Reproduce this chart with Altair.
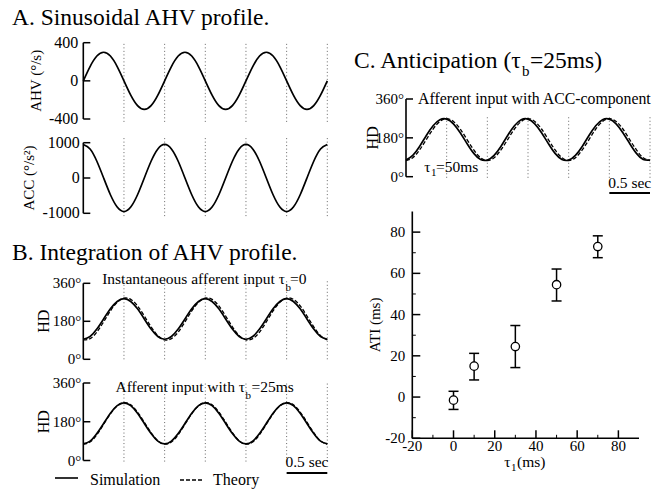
import altair as alt
import pandas as pd

FONT = "Liberation Serif"

# ---------------- data ----------------
# time samples in seconds (period of the head-turn = 1 s)
t = [0.0, 0.0833, 0.1667, 0.25, 0.3333, 0.4167, 0.5, 0.5833, 0.6667, 0.75, 0.8333, 0.9167,
     1.0, 1.0833, 1.1667, 1.25, 1.3333, 1.4167, 1.5, 1.5833, 1.6667, 1.75, 1.8333, 1.9167,
     2.0, 2.0833, 2.1667, 2.25, 2.3333, 2.4167, 2.5, 2.5833, 2.6667, 2.75, 2.8333, 2.9167, 3.0]

ahv = [0, 150, 260, 300, 260, 150, 0, -150, -260, -300, -260, -150,
       0, 150, 260, 300, 260, 150, 0, -150, -260, -300, -260, -150,
       0, 150, 260, 300, 260, 150, 0, -150, -260, -300, -260, -150, 0]

acc = [950, 823, 475, 0, -475, -823, -950, -823, -475, 0, 475, 823,
       950, 823, 475, 0, -475, -823, -950, -823, -475, 0, 475, 823,
       950, 823, 475, 0, -475, -823, -950, -823, -475, 0, 475, 823, 950]

hd1_sim = [95, 108, 143, 191, 239, 274, 287, 274, 239, 191, 143, 108,
           95, 108, 143, 191, 239, 274, 287, 274, 239, 191, 143, 108,
           95, 108, 143, 191, 239, 274, 287, 274, 239, 191, 143, 108, 95]
hd1_theory = [92, 98, 129, 177, 229, 270, 290, 284, 253, 205, 154, 112,
              92, 98, 129, 177, 229, 270, 290, 284, 253, 205, 154, 112,
              92, 98, 129, 177, 229, 270, 290, 284, 253, 205, 154, 112, 92]

hd2_sim = [77, 90, 125, 172, 220, 255, 268, 255, 220, 172, 125, 90,
           77, 90, 125, 172, 220, 255, 268, 255, 220, 172, 125, 90,
           77, 90, 125, 172, 220, 255, 268, 255, 220, 172, 125, 90, 77]
hd2_theory = [76, 86, 120, 168, 217, 254, 269, 259, 225, 178, 129, 91,
              76, 86, 120, 168, 217, 254, 269, 259, 225, 178, 129, 91,
              76, 86, 120, 168, 217, 254, 269, 259, 225, 178, 129, 91, 76]

c_sim = [77, 99, 140, 191, 236, 264, 267, 245, 204, 154, 108, 80,
         77, 99, 140, 191, 236, 264, 267, 245, 204, 154, 108, 80,
         77, 99, 140, 191, 236, 264, 267, 245, 204, 154, 108, 80, 77]
c_theory = [75, 88, 124, 172, 221, 256, 269, 256, 221, 172, 124, 88,
            75, 88, 124, 172, 221, 256, 269, 256, 221, 172, 124, 88,
            75, 88, 124, 172, 221, 256, 269, 256, 221, 172, 124, 88, 75]

grid_t = [0.5, 1.0, 1.5, 2.0, 2.5, 3.0]

tau1 = [0, 10, 30, 50, 70]
ati = [-1.5, 15.0, 24.5, 54.5, 73.0]
ati_lo = [-6.0, 8.3, 14.3, 46.6, 67.6]
ati_hi = [2.8, 21.2, 34.7, 62.1, 78.2]

ahv_ticks = [-400, 0, 400]
ahv_labels = ["-400", "0", "400"]
acc_ticks = [-1000, 0, 1000]
acc_labels = ["-1000", "0", "1000"]
hd_ticks = [0, 180, 360]
hd_labels = ["0°", "180°", "360°"]
s_major = [-20, 0, 20, 40, 60, 80]
s_labels = ["-20", "0", "20", "40", "60", "80"]
s_minor = [-10, 10, 30, 50, 70]

# ---------------- panel geometry ----------------
P_AHV = dict(xd=[0, 3], xr=[83.3, 327.3], yd=[-400, 400], yr=[119, 42.7])
P_ACC = dict(xd=[0, 3], xr=[83.3, 327.3], yd=[-1000, 1000], yr=[213.3, 142.7])
P_HD1 = dict(xd=[0, 3], xr=[83.3, 327.3], yd=[0, 360], yr=[359.3, 283.3])
P_HD2 = dict(xd=[0, 3], xr=[83.3, 327.3], yd=[0, 360], yr=[460.5, 383.0])
P_C = dict(xd=[0, 3], xr=[406.0, 650.0], yd=[0, 360], yr=[176.7, 99.0])
P_S = dict(xd=[-20, 90], xr=[412.3, 639.0], yd=[-20, 90], yr=[438.3, 211.5])


def sc(d, r):
    return alt.Scale(domain=d, range=r, nice=False, zero=False)


def xf(P, f):
    return alt.X(f, type="quantitative", scale=sc(P["xd"], P["xr"]), axis=None)


def yf(P, f):
    return alt.Y(f, type="quantitative", scale=sc(P["yd"], P["yr"]), axis=None)


def xd(P, v):
    return alt.XDatum(v, type="quantitative", scale=sc(P["xd"], P["xr"]), axis=None)


def yd(P, v):
    return alt.YDatum(v, type="quantitative", scale=sc(P["yd"], P["yr"]), axis=None)


def one():
    return alt.Chart(pd.DataFrame({"k": [0]}))


layers = []


def curve(P, vals, dash=None, w=1.7):
    df = pd.DataFrame({"t": t, "v": vals})
    kw = dict(color="black", strokeWidth=w, interpolate="natural")
    if dash:
        kw["strokeDash"] = dash
    layers.append(alt.Chart(df).mark_line(**kw).encode(x=xf(P, "t"), y=yf(P, "v")))


def gridlines(P, lo, hi):
    df = pd.DataFrame({"t": grid_t})
    layers.append(
        alt.Chart(df).mark_rule(color="#666666", strokeWidth=1, strokeDash=[1, 2.5]).encode(
            x=xf(P, "t"), y=yd(P, lo), y2=alt.Y2Datum(hi)))


def yaxis(P, ticks, labels, fsize, dx):
    lo, hi = P["yd"]
    layers.append(one().mark_rule(color="black", strokeWidth=1.6).encode(
        x=xd(P, 0), y=yd(P, lo), y2=alt.Y2Datum(hi)))
    df = pd.DataFrame({"v": ticks, "lab": labels})
    layers.append(alt.Chart(df).mark_rule(color="black", strokeWidth=1.5, x2Offset=7).encode(
        x=xd(P, 0), x2=alt.X2Datum(0), y=yf(P, "v")))
    layers.append(alt.Chart(df).mark_text(font=FONT, fontSize=fsize, align="right",
                                          baseline="middle", dx=dx, color="black").encode(
        x=xd(P, 0), y=yf(P, "v"), text=alt.Text("lab:N")))


def vtitle(P, text, xpx, yval, fsize=15):
    layers.append(one().mark_text(text=text, font=FONT, fontSize=fsize, angle=270,
                                  align="center", baseline="alphabetic", color="black").encode(
        x=alt.value(xpx), y=yd(P, yval)))


def label(text, xpx, ypx, fsize=15.5, align="left"):
    layers.append(one().mark_text(text=text, font=FONT, fontSize=fsize, align=align,
                                  baseline="alphabetic", color="black").encode(
        x=alt.value(xpx), y=alt.value(ypx)))


def scalebar(P, ypx, text_ypx):
    layers.append(one().mark_rule(color="black", strokeWidth=2).encode(
        x=xd(P, 2.5), x2=alt.X2Datum(3.0), y=alt.value(ypx)))
    layers.append(one().mark_text(text="0.5 sec", font=FONT, fontSize=15.5, align="center",
                                  baseline="alphabetic", color="black").encode(
        x=xd(P, 2.75), y=alt.value(text_ypx)))


DASH = [4, 2]

# ---------------- Panel A ----------------
label("A. Sinusoidal AHV profile.", 12, 25, fsize=23.5)
gridlines(P_AHV, -430, 400)
curve(P_AHV, ahv)
yaxis(P_AHV, ahv_ticks, ahv_labels, 16, -5)
vtitle(P_AHV, "AHV (°/s)", 41, 0)

gridlines(P_ACC, -1080, 1150)
curve(P_ACC, acc)
yaxis(P_ACC, acc_ticks, acc_labels, 16, -3.5)
vtitle(P_ACC, "ACC (°/s²)", 33.5, 0)

# ---------------- Panel B ----------------
label("B. Integration of AHV profile.", 12, 260, fsize=23.5)
gridlines(P_HD1, 0, 370)
curve(P_HD1, hd1_theory, dash=DASH, w=1.3)
curve(P_HD1, hd1_sim)
yaxis(P_HD1, hd_ticks, hd_labels, 15, -2)
vtitle(P_HD1, "HD", 49, 180, fsize=16)
label("Instantaneous afferent input τ", 285, 284, align="right")
label("b", 285.5, 291, fsize=11)
label("=0", 290, 284)

gridlines(P_HD2, -5, 365)
curve(P_HD2, hd2_theory, dash=DASH, w=1.3)
curve(P_HD2, hd2_sim)
yaxis(P_HD2, hd_ticks, hd_labels, 15, -2)
vtitle(P_HD2, "HD", 49, 180, fsize=16)
label("Afferent input with τ", 245, 392, align="right")
label("b", 245.5, 399, fsize=11)
label("=25ms", 251.5, 392)
scalebar(P_HD2, 473, 467)

# legend
layers.append(one().mark_rule(color="black", strokeWidth=1.6).encode(
    x=alt.value(55), x2=alt.value(78), y=alt.value(478)))
label("Simulation", 90, 485, fsize=16)
layers.append(one().mark_rule(color="black", strokeWidth=1.4, strokeDash=DASH).encode(
    x=alt.value(180), x2=alt.value(203), y=alt.value(480)))
label("Theory", 213, 485, fsize=16)

# ---------------- Panel C ----------------
label("C. Anticipation (τ", 354, 68, fsize=23.5)
label("b", 522, 76, fsize=15)
label("=25ms)", 530, 68, fsize=23.5)
gridlines(P_C, -5, 280)
curve(P_C, c_theory, dash=DASH, w=1.3)
curve(P_C, c_sim)
yaxis(P_C, hd_ticks, hd_labels, 15, -2)
vtitle(P_C, "HD", 378, 180, fsize=16)
label("Afferent input with ACC-component", 418, 104, fsize=15.8)
label("τ", 430.5, 172, align="right")
label("1", 431, 176, fsize=11)
label("=50ms", 436, 172)
scalebar(P_C, 193, 188)

# ---------------- scatter ----------------
P = P_S
layers.append(one().mark_rule(color="black", strokeWidth=1.6).encode(
    x=xd(P, -20), y=yd(P, -20), y2=alt.Y2Datum(90)))
layers.append(one().mark_rule(color="black", strokeWidth=1.6).encode(
    x=xd(P, -20), x2=alt.X2Datum(90), y=yd(P, -20)))
maj = pd.DataFrame({"v": s_major, "lab": s_labels})
mnr = pd.DataFrame({"v": s_minor})
layers.append(alt.Chart(maj).mark_rule(color="black", strokeWidth=1.5, x2Offset=8).encode(
    x=xd(P, -20), x2=alt.X2Datum(-20), y=yf(P, "v")))
layers.append(alt.Chart(mnr).mark_rule(color="black", strokeWidth=1, x2Offset=3.5).encode(
    x=xd(P, -20), x2=alt.X2Datum(-20), y=yf(P, "v")))
layers.append(alt.Chart(maj).mark_rule(color="black", strokeWidth=1.5, y2Offset=-8).encode(
    x=xf(P, "v"), y=yd(P, -20), y2=alt.Y2Datum(-20)))
layers.append(alt.Chart(mnr).mark_rule(color="black", strokeWidth=1, y2Offset=-3.5).encode(
    x=xf(P, "v"), y=yd(P, -20), y2=alt.Y2Datum(-20)))
layers.append(alt.Chart(maj).mark_text(font=FONT, fontSize=15, align="right", baseline="middle",
                                       dx=-7, color="black").encode(
    x=xd(P, -20), y=yf(P, "v"), text=alt.Text("lab:N")))
layers.append(alt.Chart(maj).mark_text(font=FONT, fontSize=15, align="center", baseline="alphabetic",
                                       dy=13, color="black").encode(
    x=xf(P, "v"), y=yd(P, -20), text=alt.Text("lab:N")))
vtitle(P, "ATI (ms)", 380, 35)
label("τ", 510.5, 467, align="right")
label("1", 511, 471, fsize=11)
label("(ms)", 517, 467)

pts = pd.DataFrame({"x": tau1, "y": ati, "lo": ati_lo, "hi": ati_hi})
layers.append(alt.Chart(pts).mark_rule(color="black", strokeWidth=1.5).encode(
    x=xf(P, "x"), y=yf(P, "lo"), y2="hi"))
layers.append(alt.Chart(pts).mark_rule(color="black", strokeWidth=1.5, xOffset=-5, x2Offset=5).encode(
    x=xf(P, "x"), x2="x", y=yf(P, "lo")))
layers.append(alt.Chart(pts).mark_rule(color="black", strokeWidth=1.5, xOffset=-5, x2Offset=5).encode(
    x=xf(P, "x"), x2="x", y=yf(P, "hi")))
layers.append(alt.Chart(pts).mark_point(shape="circle", filled=True, fill="white", stroke="black",
                                        strokeWidth=1.3, size=70, opacity=1).encode(
    x=xf(P, "x"), y=yf(P, "y")))

chart = alt.layer(*layers).resolve_scale(x="independent", y="independent").properties(
    width=653, height=489, padding=0, autosize=alt.AutoSizeParams(type="none"),
    background="white").configure_view(stroke=None)

chart.save("out.html", embed_options={"renderer": "svg", "actions": False})
